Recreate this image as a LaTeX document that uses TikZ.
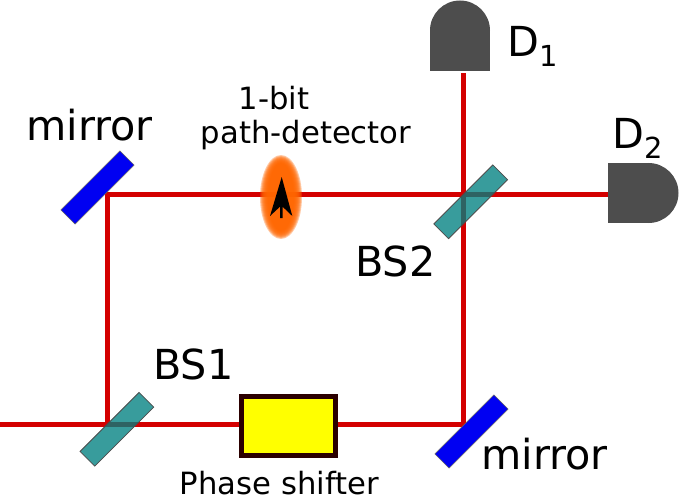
\documentclass[tikz,border=0pt]{standalone}
\usepackage{fontspec}
\setmainfont{DejaVu Sans}
\definecolor{beam}{HTML}{D40000}
\definecolor{detgray}{HTML}{4D4D4D}
\definecolor{tealbs}{HTML}{008080}
\definecolor{boxedge}{HTML}{2B0000}
\definecolor{glow}{HTML}{FF6600}
\definecolor{pureyellow}{HTML}{FFFF00}
\tikzset{
  ray/.style={draw=beam,line width=3.75pt,line join=miter},
  splitter/.style={rectangle,rotate=45,minimum width=62.6pt,minimum height=15.6pt,inner sep=0pt,draw=black!70!white,line width=0.6pt,fill=tealbs,fill opacity=0.78},
  mirrorbar/.style={rectangle,rotate=45,minimum width=62.6pt,minimum height=15pt,inner sep=0pt,draw=black!60!white,line width=0.4pt,fill=blue!95!black},
  bigtext/.style={anchor=base west,inner sep=0pt,font=\fontsize{31}{37}\selectfont},
  smalltext/.style={anchor=base,inner sep=0pt,font=\fontsize{23}{28}\selectfont},
  detbody/.style={rectangle,fill=detgray,inner sep=0pt}
}
\begin{document}
\begin{tikzpicture}[x=0.75pt,y=-0.75pt]
\useasboundingbox (0,0) rectangle (679,503);
% beam junctions
\coordinate (in) at (0,424);
\coordinate (a) at (107,424);
\coordinate (b) at (107,194);
\coordinate (c) at (463,194);
\coordinate (e) at (463,424);
\coordinate (d1end) at (463,73);
% detectors
\node[detbody,minimum width=45pt,minimum height=30.75pt] (d1) at (460,50.5) {};
\fill[detgray] (430,30.5) arc[start angle=180,end angle=360,radius=30] -- cycle;
\node[detbody,minimum width=30.75pt,minimum height=45pt] (d2) at (628.5,193) {};
\fill[detgray] (648.5,163) arc[start angle=-90,end angle=90,radius=30] -- cycle;
% phase shifter
\node[rectangle,draw=boxedge,fill=pureyellow,line width=3.9pt,minimum width=70.5pt,minimum height=44.2pt,inner sep=0pt] (ps) at (288.2,426) {};
% beams
\draw[ray] (in) -- (ps.west |- in);
\draw[ray] (ps.east |- e) -- (e) -- (d1end);
\draw[ray] (a) -- (b) -- (d2.west |- b);
% detector glow
\foreach \rx/\ry in {21/42,20/41,19/40,18/39,17/38,16/37,15/36,14/35,13/34}{
  \fill[glow,opacity=0.35] (281,197) ellipse[x radius=\rx,y radius=\ry];
}
\node[inner sep=0pt,minimum size=0pt] (pd) at (281,197) {};
\fill[black] (281.7,177) -- (292.3,216) -- (282.6,206.7) -- (282.6,218) -- (280,218) -- (280,206.7) -- (270,216) -- cycle;
% optics
\node[mirrorbar] (m1) at (97.5,187.5) {};
\node[mirrorbar] (m2) at (471.5,431.5) {};
\node[splitter] (bs1) at (116.9,429.3) {};
\node[splitter] (bs2) at (470.7,201.8) {};
% labels
\node[bigtext] (lm1) at (26,141) {mirror};
\node[bigtext] (lm2) at (481,469) {mirror};
\node[bigtext] (lb1) at (153,379) {BS1};
\node[bigtext] (lb2) at (355,276) {BS2};
\node[smalltext] (l1) at (274,110) {1-bit};
\node[smalltext] (l2) at (306,144) {path-detector};
\node[smalltext] (l3) at (279.5,494) {Phase shifter};
\node[bigtext] (ld1) at (507,57) {D\textsubscript{1}};
\node[bigtext] (ld2) at (612,148) {D\textsubscript{2}};
\end{tikzpicture}
\end{document}
